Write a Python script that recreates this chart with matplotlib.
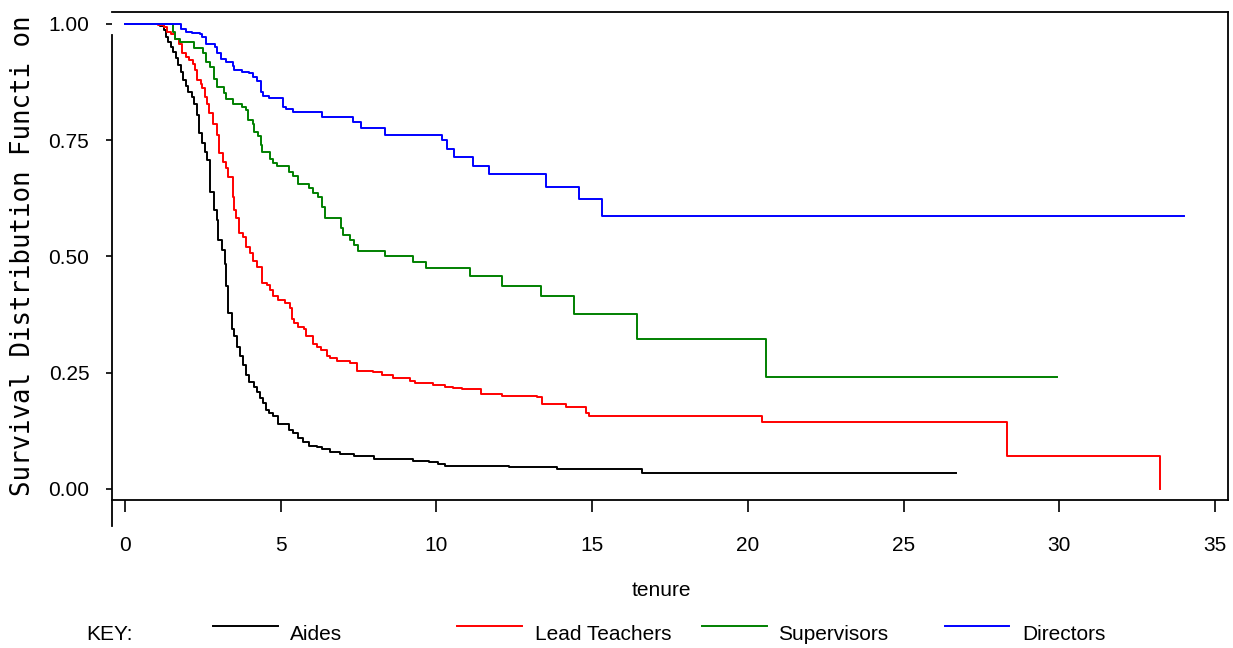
import numpy as np
import matplotlib
matplotlib.use("Agg")
import matplotlib.pyplot as plt
from matplotlib.lines import Line2D

plt.rcParams['font.family'] = ['Liberation Sans', 'DejaVu Sans']

# Kaplan-Meier step curves (tenure in years, survival)
aides_t = [0, 1.12, 1.25, 1.32, 1.39, 1.47, 1.55, 1.64, 1.71, 1.79, 1.87, 1.96, 2.03, 2.14,
           2.22, 2.30, 2.38, 2.46, 2.57, 2.64, 2.73, 2.87, 2.94, 3.00, 3.10, 3.20, 3.25, 3.32,
           3.45, 3.51, 3.61, 3.69, 3.78, 3.87, 3.98, 4.14, 4.25, 4.34, 4.44, 4.52, 4.63, 4.76,
           4.90, 5.27, 5.38, 5.57, 5.73, 5.91, 6.16, 6.32, 6.58, 6.90, 7.36, 8.00, 9.26, 9.77,
           10.06, 10.28, 12.34, 13.86, 16.59, 26.67]
aides_s = [1.0, 0.996, 0.987, 0.973, 0.962, 0.951, 0.940, 0.926, 0.912, 0.897, 0.880, 0.867,
           0.854, 0.844, 0.829, 0.804, 0.765, 0.743, 0.725, 0.708, 0.639, 0.600, 0.578, 0.535,
           0.514, 0.484, 0.437, 0.378, 0.343, 0.329, 0.306, 0.285, 0.267, 0.245, 0.231, 0.220,
           0.209, 0.195, 0.184, 0.170, 0.163, 0.156, 0.140, 0.127, 0.120, 0.109, 0.100, 0.092,
           0.090, 0.085, 0.079, 0.075, 0.071, 0.065, 0.061, 0.057, 0.054, 0.050, 0.047, 0.044,
           0.034, 0.034]

lead_t = [0, 1.07, 1.25, 1.34, 1.47, 1.61, 1.73, 1.82, 1.96, 2.07, 2.19, 2.25, 2.32, 2.43,
          2.46, 2.57, 2.62, 2.70, 2.84, 2.94, 3.02, 3.16, 3.23, 3.32, 3.46, 3.50, 3.56, 3.66,
          3.78, 3.87, 4.01, 4.12, 4.25, 4.40, 4.56, 4.66, 4.75, 4.90, 5.14, 5.30, 5.35, 5.44,
          5.57, 5.76, 5.81, 6.05, 6.16, 6.29, 6.48, 6.58, 6.80, 7.23, 7.44, 7.97, 8.24, 8.62,
          9.15, 9.31, 9.90, 10.28, 10.54, 10.81, 11.43, 12.10, 13.22, 13.40, 14.16, 14.80,
          14.91, 20.45, 28.33, 33.24]
lead_s = [1.0, 0.997, 0.993, 0.983, 0.978, 0.967, 0.958, 0.937, 0.928, 0.923, 0.915, 0.900,
          0.880, 0.871, 0.862, 0.844, 0.829, 0.808, 0.786, 0.761, 0.722, 0.704, 0.690, 0.672,
          0.629, 0.600, 0.582, 0.550, 0.541, 0.521, 0.507, 0.490, 0.478, 0.443, 0.439, 0.428,
          0.416, 0.406, 0.399, 0.389, 0.365, 0.356, 0.349, 0.343, 0.328, 0.311, 0.305, 0.299,
          0.286, 0.281, 0.275, 0.270, 0.254, 0.251, 0.246, 0.239, 0.233, 0.227, 0.224, 0.220,
          0.217, 0.214, 0.204, 0.201, 0.197, 0.183, 0.177, 0.163, 0.156, 0.143, 0.071, 0.0]

sup_t = [0, 1.53, 1.61, 1.77, 2.22, 2.49, 2.60, 2.73, 2.86, 2.97, 3.18, 3.24, 3.48, 3.75,
         3.87, 3.96, 4.10, 4.15, 4.26, 4.38, 4.41, 4.66, 4.76, 4.87, 5.27, 5.38, 5.57, 5.92,
         6.05, 6.21, 6.32, 6.42, 6.93, 6.99, 7.23, 7.35, 7.49, 8.35, 9.26, 9.66, 11.08, 12.10,
         13.36, 14.42, 16.44, 20.59, 29.92]
sup_s = [1.0, 0.983, 0.967, 0.962, 0.949, 0.937, 0.919, 0.908, 0.881, 0.864, 0.851, 0.838,
         0.827, 0.822, 0.815, 0.794, 0.785, 0.768, 0.759, 0.740, 0.725, 0.709, 0.700, 0.695,
         0.682, 0.673, 0.655, 0.647, 0.636, 0.627, 0.607, 0.583, 0.562, 0.546, 0.535, 0.525,
         0.512, 0.502, 0.488, 0.475, 0.458, 0.437, 0.414, 0.376, 0.322, 0.241, 0.241]

dir_t = [0, 1.80, 1.96, 2.14, 2.41, 2.46, 2.60, 2.89, 2.94, 3.07, 3.24, 3.46, 3.50, 3.75,
         3.98, 4.10, 4.23, 4.37, 4.44, 4.62, 5.06, 5.17, 5.41, 6.32, 7.33, 7.58, 8.35, 10.17,
         10.33, 10.57, 11.17, 11.69, 13.51, 14.58, 15.33, 34.01]
dir_s = [1.0, 0.989, 0.983, 0.980, 0.978, 0.971, 0.958, 0.950, 0.937, 0.925, 0.918, 0.910,
         0.901, 0.896, 0.894, 0.885, 0.878, 0.853, 0.846, 0.840, 0.822, 0.817, 0.810, 0.801,
         0.790, 0.777, 0.762, 0.750, 0.732, 0.715, 0.695, 0.677, 0.650, 0.623, 0.586, 0.586]

groups = ["Aides", "Lead Teachers", "Supervisors", "Directors"]
colors = ["black", "#ff0000", "#008000", "#0000ff"]
curves = [(aides_t, aides_s), (lead_t, lead_s), (sup_t, sup_s), (dir_t, dir_s)]

W, H = 1233, 648
fig = plt.figure(figsize=(W / 100, H / 100), dpi=100)

def fx(px):
    return px / W

def fy(py):
    return 1 - py / H

ax = fig.add_axes([fx(112), fy(500), fx(1228) - fx(112), fy(12) - fy(500)])
for (t, s), c in zip(curves, colors):
    ax.step(t, s, where="post", color=c, lw=1.4)

ax.set_xlim(-0.417, 35.42)
ax.set_ylim(-0.0237, 1.0258)
ax.set_xticks(np.arange(0, 36, 5))
ax.set_yticks([0, 0.25, 0.5, 0.75, 1.0])
ax.set_yticklabels(["0.00", "0.25", "0.50", "0.75", "1.00"])
ax.tick_params(axis="x", direction="out", length=8.6, width=1.2, pad=17.5, labelsize=15)
ax.tick_params(axis="y", direction="out", length=4.3, width=1.2, pad=12, labelsize=15)
for side in ["top", "right", "bottom"]:
    ax.spines[side].set_linewidth(1.3)
ax.spines["left"].set_visible(False)
# detached left axis line, runs past the bottom frame
ax.plot([0, 0], [-0.0796, 0.976], transform=ax.get_yaxis_transform(),
        clip_on=False, color="black", lw=1.3)

fig.text(fx(23), fy(256), "Survival Distribution Functi on", rotation=90,
         family="DejaVu Sans Mono", fontsize=18.5, ha="center", va="center")
fig.text(fx(661), fy(591), "tenure", fontsize=15, ha="center", va="center")

# key row
fig.text(fx(86), fy(635), "KEY:", fontsize=15, ha="left", va="center")
key_lines = [(213, 278), (457, 522), (702, 767), (945, 1009)]
key_text_x = [290, 535, 778, 1022]
for (x0, x1), tx, name, c in zip(key_lines, key_text_x, groups, colors):
    fig.add_artist(Line2D([fx(x0), fx(x1)], [fy(626), fy(626)], color=c, lw=1.4,
                          transform=fig.transFigure))
    fig.text(fx(tx), fy(635), name, fontsize=15, ha="left", va="center")

fig.savefig("out.png", dpi=100)
